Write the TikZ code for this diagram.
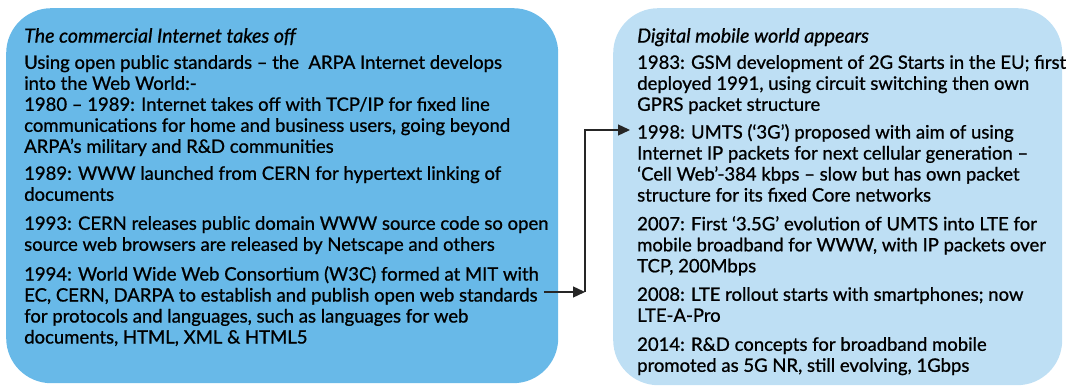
\documentclass[tikz,border=0pt]{standalone}
\usepackage{fontspec}
\setmainfont{Lato}[FakeBold=0.9]
\usetikzlibrary{positioning,arrows.meta}

\definecolor{webblue}{HTML}{68B9E8}
\definecolor{mobblue}{HTML}{BEDFF4}

\tikzset{
  panel/.style={rounded corners=45pt, inner sep=0pt, anchor=north west},
  para/.style={anchor=north west, align=left, inner sep=0pt,
    font=\fontsize{18.5}{21}\selectfont},
  title/.style={para, font=\fontsize{19.6}{21}\selectfont\itshape},
  link/.style={line width=1.3pt, black!85, -{Triangle[length=12pt,width=11pt]}},
}

\begin{document}
\begin{tikzpicture}[x=1pt,y=-1pt]
    \useasboundingbox (0,0) rectangle (1069,387);

    % the two panels
    \node[panel, fill=webblue, minimum width=552pt, minimum height=375pt] (web) at (6,8) {};
    \node[panel, fill=mobblue, minimum width=449pt, minimum height=377pt] (mobile) at (613,8) {};

    % left panel
    \node[title] (webtitle) at (24,28) {The commercial Internet takes off};
    \node[para] (arpa) at (24,55) {Using open public standards -- the\ \ ARPA Internet develops\\
        into the Web World:-\\
        1980 -- 1989: Internet takes off with TCP/IP for fixed line\\
        communications for home and business users, going beyond\\
        ARPA’s military and R\&D communities};
    \node[para] (www) at (24,166) {1989: WWW launched from CERN for hypertext linking of\\
        documents};
    \node[para] (cern) at (24,216) {1993: CERN releases public domain WWW source code so open\\
        source web browsers are released by Netscape and others};
    \node[para] (wthreec) at (24,266) {1994: World Wide Web Consortium (W3C) formed at MIT with\\
        EC, CERN, DARPA to establish and publish open web standards\\
        for protocols and languages, such as languages for web\\
        documents, HTML, XML \& HTML5};

    % right panel
    \node[title] (mobtitle) at (637,28) {Digital mobile world appears};
    \node[para] (gsm) at (637,55) {1983: GSM development of 2G Starts in the EU; first\\
        deployed 1991, using circuit switching then own\\
        GPRS packet structure};
    \node[para] (umts) at (637,124) {1998: UMTS (‘3G’) proposed with aim of using\\
        Internet IP packets for next cellular generation --\\
        ‘Cell Web’-384 kbps -- slow but has own packet\\
        structure for its fixed Core networks};
    \node[para] (lte) at (637,216) {2007: First ‘3.5G’ evolution of UMTS into LTE for\\
        mobile broadband for WWW, with IP packets over\\
        TCP, 200Mbps};
    \node[para] (ltepro) at (637,287) {2008: LTE rollout starts with smartphones; now\\
        LTE-A-Pro};
    \node[para] (fiveg) at (637,337) {2014: R\&D concepts for broadband mobile\\
        promoted as 5G NR, still evolving, 1Gbps};

    % connector
    \coordinate (bend) at (585,292);
    \coordinate (wend) at ([xshift=5pt]wthreec.east |- bend);
    \coordinate (into) at (630,130);
    \draw[link] (wend) -- (bend);
    \draw[link] (bend) |- (into);
\end{tikzpicture}
\end{document}
